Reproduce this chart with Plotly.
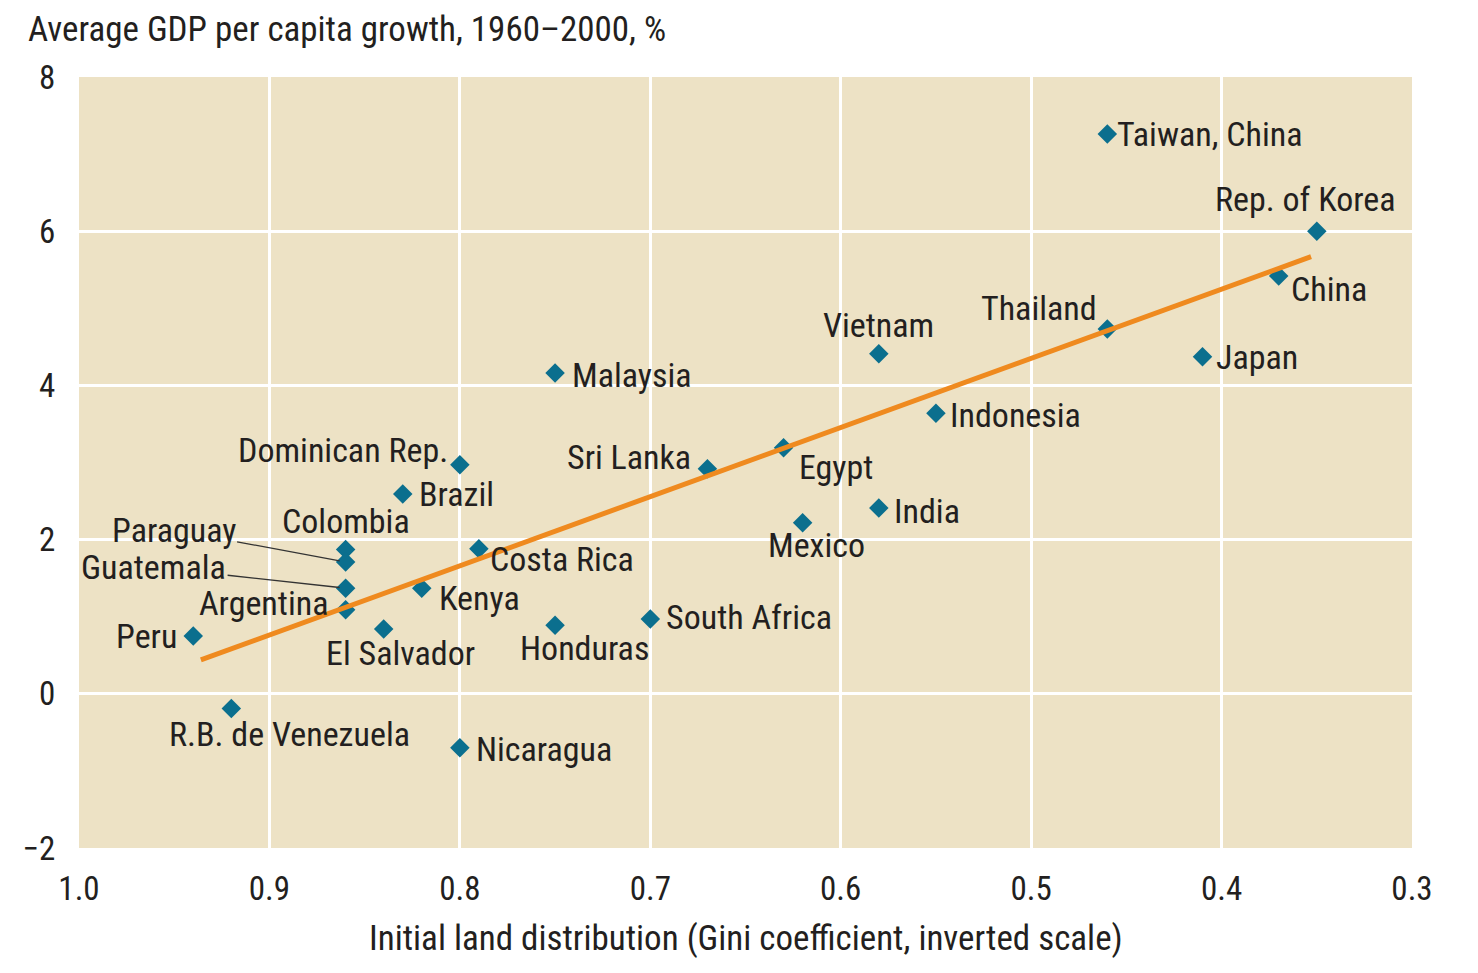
import plotly.graph_objects as go

# ---- data ----
countries = ["Taiwan, China", "Rep. of Korea", "China", "Thailand", "Japan", "Vietnam",
             "Indonesia", "Malaysia", "Sri Lanka", "Egypt", "India", "Mexico",
             "Dominican Rep.", "Brazil", "Colombia", "Paraguay", "Guatemala", "Argentina",
             "Costa Rica", "Kenya", "Peru", "El Salvador", "Honduras", "South Africa",
             "R.B. de Venezuela", "Nicaragua"]
land_gini = [0.46, 0.35, 0.37, 0.46, 0.41, 0.58,
             0.55, 0.75, 0.67, 0.63, 0.58, 0.62,
             0.80, 0.83, 0.86, 0.86, 0.86, 0.86,
             0.79, 0.82, 0.94, 0.84, 0.75, 0.70,
             0.92, 0.80]
gdp_growth = [7.26, 6.00, 5.42, 4.73, 4.37, 4.41,
              3.64, 4.16, 2.92, 3.19, 2.41, 2.22,
              2.97, 2.59, 1.87, 1.71, 1.37, 1.09,
              1.88, 1.37, 0.75, 0.84, 0.89, 0.97,
              -0.19, -0.70]
trend_x = [0.936, 0.353]
trend_y = [0.44, 5.67]
x_ticks = [1.0, 0.9, 0.8, 0.7, 0.6, 0.5, 0.4, 0.3]
y_ticks = [-2, 0, 2, 4, 6, 8]

# ---- label placement (pixels: anchor, dx, dy downwards) ----
label_style = {
    "Taiwan, China": ("left", 8, 0),
    "Rep. of Korea": ("center", -11, -32),
    "China": ("left", 10, 13),
    "Thailand": ("right", -8, -21),
    "Japan": ("left", 11, 0),
    "Vietnam": ("center", 0, -29),
    "Indonesia": ("left", 12, 2),
    "Malaysia": ("left", 15, 2),
    "Sri Lanka": ("right", -14, -12),
    "Egypt": ("left", 13, 19),
    "India": ("left", 13, 3),
    "Mexico": ("center", 14, 22),
    "Dominican Rep.": ("right", -10, -15),
    "Brazil": ("left", 14, 0),
    "Colombia": ("center", 0, -29),
    "Argentina": ("right", -16, -7),
    "Costa Rica": ("left", 9, 10),
    "Kenya": ("left", 15, 10),
    "Peru": ("right", -14, 0),
    "El Salvador": ("center", 17, 24),
    "Honduras": ("center", 29, 23),
    "South Africa": ("left", 14, -2),
    "R.B. de Venezuela": ("center", 58, 26),
    "Nicaragua": ("left", 14, 1),
}
leader_style = {"Paraguay": (-172, -32), "Guatemala": (-192, -21)}

FONT = "Roboto Condensed, Liberation Sans Narrow, Roboto, sans-serif"
TXT = "#231f20"
LBL = 34

fig = go.Figure()
fig.add_trace(go.Scatter(
    x=land_gini, y=gdp_growth, mode="markers",
    marker=dict(symbol="diamond", size=15, color="#0b6f8e"),
    hoverinfo="text", text=countries, showlegend=False))
fig.add_trace(go.Scatter(
    x=trend_x, y=trend_y, mode="lines",
    line=dict(color="#ef8a1f", width=5), showlegend=False, hoverinfo="skip"))

annotations = []
for name, gx, gy in zip(countries, land_gini, gdp_growth):
    if name in label_style:
        anchor, dx, dy = label_style[name]
        annotations.append(dict(x=gx, y=gy, xref="x", yref="y", text=name, showarrow=False,
                                xanchor=anchor, yanchor="middle", xshift=dx, yshift=-dy,
                                font=dict(family=FONT, size=LBL, color=TXT)))
    elif name in leader_style:
        ax, ay = leader_style[name]
        annotations.append(dict(x=gx, y=gy, xref="x", yref="y", text=name, showarrow=True,
                                arrowhead=0, arrowwidth=1.3, arrowcolor="#333333",
                                ax=ax, ay=ay, standoff=6,
                                font=dict(family=FONT, size=LBL, color=TXT)))

annotations.append(dict(x=-0.04, y=1.061, xref="paper", yref="paper",
                        text="Average GDP per capita growth, 1960–2000, %",
                        showarrow=False, xanchor="left", yanchor="middle",
                        font=dict(family=FONT, size=35, color=TXT)))
annotations.append(dict(x=0.5, y=-0.117, xref="paper", yref="paper",
                        text="Initial land distribution (Gini coefficient, inverted scale)",
                        showarrow=False, xanchor="center", yanchor="middle",
                        font=dict(family=FONT, size=35, color=TXT)))

fig.update_layout(
    width=1478, height=973,
    margin=dict(l=79, r=66, t=77, b=125),
    paper_bgcolor="white", plot_bgcolor="#ede2c5",
    font=dict(family=FONT, size=33, color=TXT),
    annotations=annotations,
    xaxis=dict(range=[1.0, 0.3], tickvals=x_ticks, tickformat=".1f",
               showgrid=True, gridcolor="white", gridwidth=3, zeroline=False,
               ticks="outside", ticklen=11, tickcolor="rgba(0,0,0,0)",
               showline=False, tickfont=dict(size=33)),
    yaxis=dict(range=[-2, 8], tickvals=y_ticks,
               showgrid=True, gridcolor="white", gridwidth=3, zeroline=False,
               ticks="outside", ticklen=16, tickcolor="rgba(0,0,0,0)",
               showline=False, tickfont=dict(size=33)),
)

fig.write_html("out.html", config={"displayModeBar": False},
               post_script="document.body.style.margin='0';document.body.style.padding='0';")
